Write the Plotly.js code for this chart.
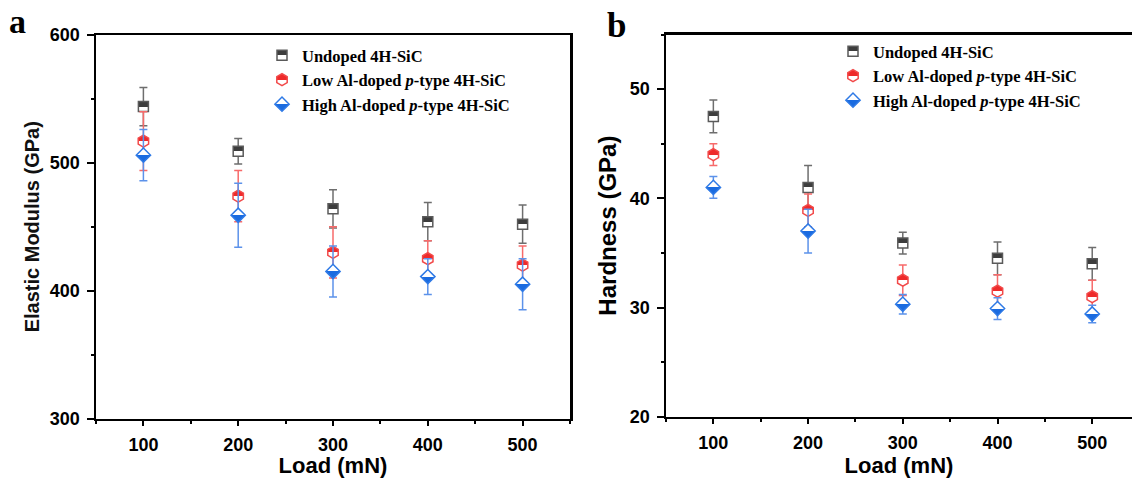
<!DOCTYPE html>
<html>
<head>
<meta charset="utf-8">
<script src="https://cdn.plot.ly/plotly-3.0.1.min.js"></script>
<style>
html,body{margin:0;padding:0;background:#fff;}
#chart{width:1132px;height:478px;}
</style>
</head>
<body>
<div id="chart"></div>
<script>
// ---- data ----
const loads = [100, 200, 300, 400, 500];
const seriesNames = ['Undoped 4H-SiC', 'Low Al-doped <i>p</i>-type 4H-SiC', 'High Al-doped <i>p</i>-type 4H-SiC'];

const modulusUndoped = [544, 509, 464, 454, 452];
const modulusUndopedErr = [15, 10, 15, 15, 15];
const modulusLow = [517, 474, 430, 425, 420];
const modulusLowErr = [23, 20, 20, 14, 15];
const modulusHigh = [506, 459, 415, 411, 405];
const modulusHighErr = [20, 25, 20, 14, 20];

const hardnessUndoped = [47.5, 41.0, 35.9, 34.5, 34.0];
const hardnessUndopedErr = [1.5, 2.0, 1.0, 1.5, 1.5];
const hardnessLow = [44.0, 38.9, 32.5, 31.5, 31.0];
const hardnessLowErr = [1.0, 1.5, 1.4, 1.5, 1.5];
const hardnessHigh = [41.0, 37.0, 30.3, 29.9, 29.4];
const hardnessHighErr = [1.0, 2.0, 0.9, 1.0, 0.8];

const xTickVals = [100, 200, 300, 400, 500];
const modTickVals = [300, 400, 500, 600];
const hardTickVals = [20, 30, 40, 50];

// ---- styles ----
const styles = [
  {symbol: 'square', size: 10, fill: '#3d3d3d', line: '#5a5a5a', grad: '#ffffff', err: '#6e6e6e'},
  {symbol: 'hexagon', size: 12, fill: '#ee2a2a', line: '#f24a4a', grad: '#ffffff', err: '#f76a6a'},
  {symbol: 'diamond', size: 11, fill: '#ffffff', line: '#2f7ae6', grad: '#1a6be0', err: '#5c92ea'}
];

function mk(i, y, err, xa, ya, legendId) {
  const s = styles[i];
  return {
    type: 'scatter', mode: 'markers',
    x: loads, y: y,
    name: seriesNames[i],
    xaxis: xa, yaxis: ya, legend: legendId,
    marker: {symbol: s.symbol, size: s.size, color: s.fill,
      line: {color: s.line, width: 1.5},
      gradient: {type: 'vertical', color: s.grad}},
    error_y: {type: 'data', array: err, visible: true, color: s.err, thickness: 1.5, width: 4}
  };
}

const data = [
  mk(0, modulusUndoped, modulusUndopedErr, 'x', 'y', 'legend'),
  mk(1, modulusLow, modulusLowErr, 'x', 'y', 'legend'),
  mk(2, modulusHigh, modulusHighErr, 'x', 'y', 'legend'),
  mk(0, hardnessUndoped, hardnessUndopedErr, 'x2', 'y2', 'legend2'),
  mk(1, hardnessLow, hardnessLowErr, 'x2', 'y2', 'legend2'),
  mk(2, hardnessHigh, hardnessHighErr, 'x2', 'y2', 'legend2')
];

const tickFont = {family: '"Liberation Sans", Arial, sans-serif', size: 18, color: '#000', weight: 'bold'};
const W = 1132, H = 478;

function xAxis(domain, range, anchor) {
  return {
    domain: domain, range: range, anchor: anchor,
    showgrid: false, zeroline: false,
    showline: true, linewidth: 2.5, linecolor: '#000', mirror: true,
    ticks: 'outside', ticklen: 5, tickwidth: 2, tickcolor: '#000',
    tickvals: xTickVals, ticklabelstandoff: 3,
    minor: {dtick: 50, tick0: 50, ticks: 'outside', ticklen: 3, tickwidth: 2, tickcolor: '#000'},
    tickfont: tickFont,
    title: {text: 'Load (mN)', standoff: 5,
      font: {family: '"Liberation Sans", Arial, sans-serif', size: 22, color: '#000', weight: 'bold'}}
  };
}

const layout = {
  width: W, height: H,
  margin: {l: 0, r: 0, t: 0, b: 0},
  paper_bgcolor: '#fff', plot_bgcolor: '#fff',
  showlegend: true,
  xaxis: xAxis([96 / W, 570 / W], [50, 550], 'y'),
  yaxis: {
    domain: [1 - 418.5 / H, 1 - 35 / H], range: [300, 600], anchor: 'x',
    showgrid: false, zeroline: false,
    showline: true, linewidth: 2.5, linecolor: '#000', mirror: true,
    ticks: 'outside', ticklen: 7, tickwidth: 2, tickcolor: '#000',
    tickvals: modTickVals, ticklabelstandoff: 3,
    minor: {dtick: 50, tick0: 300, ticks: 'outside', ticklen: 3, tickwidth: 2, tickcolor: '#000'},
    tickfont: tickFont,
    title: {text: 'Elastic Modulus (GPa)', standoff: 5,
      font: {family: '"Liberation Sans", Arial, sans-serif', size: 20, color: '#111', weight: 'bold'}}
  },
  xaxis2: xAxis([666 / W, 1], [50, 542], 'y2'),
  yaxis2: {
    domain: [1 - 416.7 / H, 1 - 34.5 / H], range: [20, 55], anchor: 'x2',
    showgrid: false, zeroline: false,
    showline: true, linewidth: 2.5, linecolor: '#000', mirror: false,
    ticks: 'outside', ticklen: 7, tickwidth: 2, tickcolor: '#000',
    tickvals: hardTickVals, ticklabelstandoff: 3,
    minor: {dtick: 5, tick0: 20, ticks: 'outside', ticklen: 3, tickwidth: 2, tickcolor: '#000'},
    tickfont: tickFont,
    title: {text: 'Hardness (GPa)', standoff: 7,
      font: {family: '"Liberation Sans", Arial, sans-serif', size: 24, color: '#000', weight: 'bold'}}
  },
  legend: {
    x: 262 / W, y: 1 - 38 / H, xanchor: 'left', yanchor: 'top',
    bgcolor: 'rgba(0,0,0,0)', borderwidth: 0,
    font: {family: '"Liberation Serif", "Times New Roman", serif', size: 16.5, color: '#000', weight: 'bold'}
  },
  legend2: {
    x: 833 / W, y: 1 - 34 / H, xanchor: 'left', yanchor: 'top',
    bgcolor: 'rgba(0,0,0,0)', borderwidth: 0,
    font: {family: '"Liberation Serif", "Times New Roman", serif', size: 16.5, color: '#000', weight: 'bold'}
  },
  annotations: [
    {text: 'a', xref: 'paper', yref: 'paper', x: 17 / W, y: 1 - 22 / H, xanchor: 'center', yanchor: 'middle',
      showarrow: false, font: {family: '"Liberation Serif", "Times New Roman", serif', size: 34, color: '#000', weight: 'bold'}},
    {text: 'b', xref: 'paper', yref: 'paper', x: 616 / W, y: 1 - 26 / H, xanchor: 'center', yanchor: 'middle',
      showarrow: false, font: {family: '"Liberation Serif", "Times New Roman", serif', size: 35, color: '#000', weight: 'bold'}}
  ]
};

function sharpenGradients() {
  document.querySelectorAll('linearGradient').forEach(function (g) {
    const stops = g.querySelectorAll('stop');
    if (stops.length < 2) return;
    const c0 = stops[0].getAttribute('stop-color');
    const c1 = stops[stops.length - 1].getAttribute('stop-color');
    while (g.firstChild) g.removeChild(g.firstChild);
    [[0, c0], [50, c0], [50, c1], [100, c1]].forEach(function (p) {
      const st = document.createElementNS('http://www.w3.org/2000/svg', 'stop');
      st.setAttribute('offset', p[0] + '%');
      st.setAttribute('stop-color', p[1]);
      g.appendChild(st);
    });
  });
}

Plotly.newPlot('chart', data, layout, {displayModeBar: false, staticPlot: true}).then(sharpenGradients);
</script>
</body>
</html>
